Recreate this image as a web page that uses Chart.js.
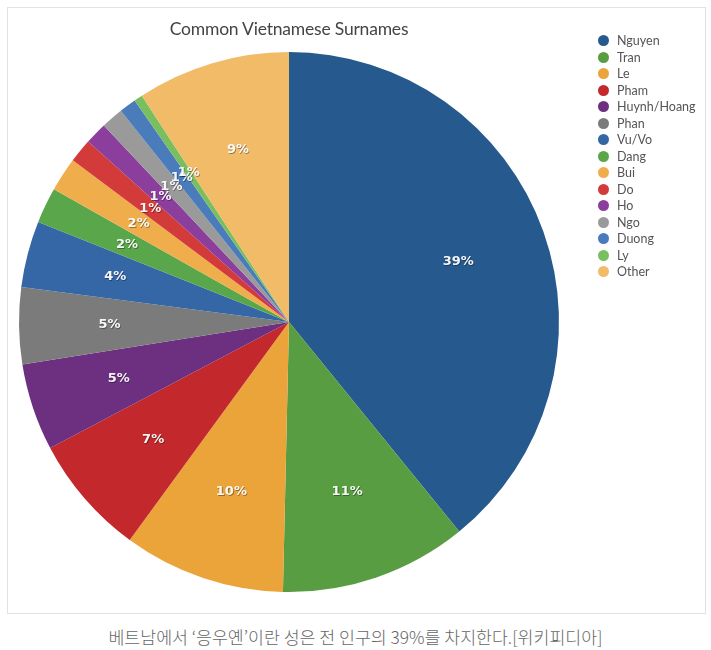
<!DOCTYPE html>
<html>
<head>
<meta charset="utf-8">
<script src="https://cdn.jsdelivr.net/npm/chart.js@4/dist/chart.umd.min.js"></script>
<style>
  body { margin: 0; background: #fff; width: 711px; height: 650px; position: relative; font-family: Lato, "Open Sans", sans-serif; }
  #box { position: absolute; left: 7px; top: 7px; width: 697px; height: 605px; border: 1px solid #e2e2e2; }
  #chart { position: absolute; left: 0; top: 0; }
  #title { position: absolute; left: 91px; width: 380px; top: 10px; text-align: center; font-size: 17.5px; color: #444; letter-spacing: -0.2px; }
  #legend { position: absolute; left: 590px; top: 25px; }
  .item { height: 16.5px; line-height: 16.5px; font-size: 12.5px; color: #555; white-space: nowrap; }
  .dot { display: inline-block; width: 11px; height: 11px; border-radius: 50%; vertical-align: -1px; margin-right: 8px; }
  #caption { position: absolute; left: 0; width: 711px; top: 624px; text-align: center; font-family: "Noto Sans CJK KR", sans-serif; font-weight: 300; font-size: 17.3px; color: #666; }
</style>
</head>
<body>
<div id="box">
  <canvas id="chart" width="697" height="605"></canvas>
  <div id="title">Common Vietnamese Surnames</div>
  <div id="legend"></div>
</div>
<div id="caption">베트남에서 ‘응우옌’이란 성은 전 인구의 39%를 차지한다.[위키피디아]</div>
<script>
// Data
const surnames = ['Nguyen', 'Tran', 'Le', 'Pham', 'Huynh/Hoang', 'Phan', 'Vu/Vo', 'Dang', 'Bui', 'Do', 'Ho', 'Ngo', 'Duong', 'Ly', 'Other'];
const shares = [38.4, 11, 9.5, 7.1, 5.1, 4.5, 3.9, 2.1, 2, 1.4, 1.3, 1.3, 1, 0.5, 9];
const colors = ['#265a8e', '#589d41', '#eba43a', '#c3282d', '#6d2f80', '#7b7b7b', '#3567a6', '#5aa64a',
                '#f0ad4c', '#d33b3b', '#8b3e9b', '#9a9a9a', '#4a7cbc', '#7abf5f', '#f1bb68'];

// Legend
const legend = document.getElementById('legend');
legend.innerHTML = surnames.map((s, i) =>
    `<div class="item"><span class="dot" style="background:${colors[i]}"></span>${s}</div>`
).join('');

// Percent labels inside slices
const sliceLabels = {
    id: 'sliceLabels',
    afterDatasetsDraw(chart) {
        const ctx = chart.ctx;
        const meta = chart.getDatasetMeta(0);
        const total = shares.reduce((a, b) => a + b, 0);
        ctx.save();
        ctx.font = 'bold 13px "DejaVu Sans", sans-serif';
        ctx.textAlign = 'center';
        ctx.textBaseline = 'middle';
        meta.data.forEach((arc, i) => {
            const p = arc.getProps(['x', 'y', 'startAngle', 'endAngle', 'outerRadius'], true);
            const mid = (p.startAngle + p.endAngle) / 2;
            const r = p.outerRadius * 0.665;
            const x = p.x + Math.cos(mid) * r;
            const y = p.y + Math.sin(mid) * r;
            const txt = Math.round(shares[i] / total * 100) + '%';
            ctx.fillStyle = 'rgba(0,0,0,0.35)';
            ctx.fillText(txt, x + 0.8, y + 1);
            ctx.fillStyle = 'rgba(255,255,255,0.95)';
            ctx.fillText(txt, x, y);
        });
        ctx.restore();
    }
};

new Chart(document.getElementById('chart').getContext('2d'), {
    type: 'pie',
    data: {
        labels: surnames,
        datasets: [{
            data: shares,
            backgroundColor: colors,
            borderWidth: 0
        }]
    },
    options: {
        responsive: false,
        animation: false,
        layout: { padding: { left: 11, top: 44, right: 146, bottom: 21 } },
        plugins: {
            legend: { display: false },
            tooltip: { enabled: false }
        }
    },
    plugins: [sliceLabels]
});
</script>
</body>
</html>
